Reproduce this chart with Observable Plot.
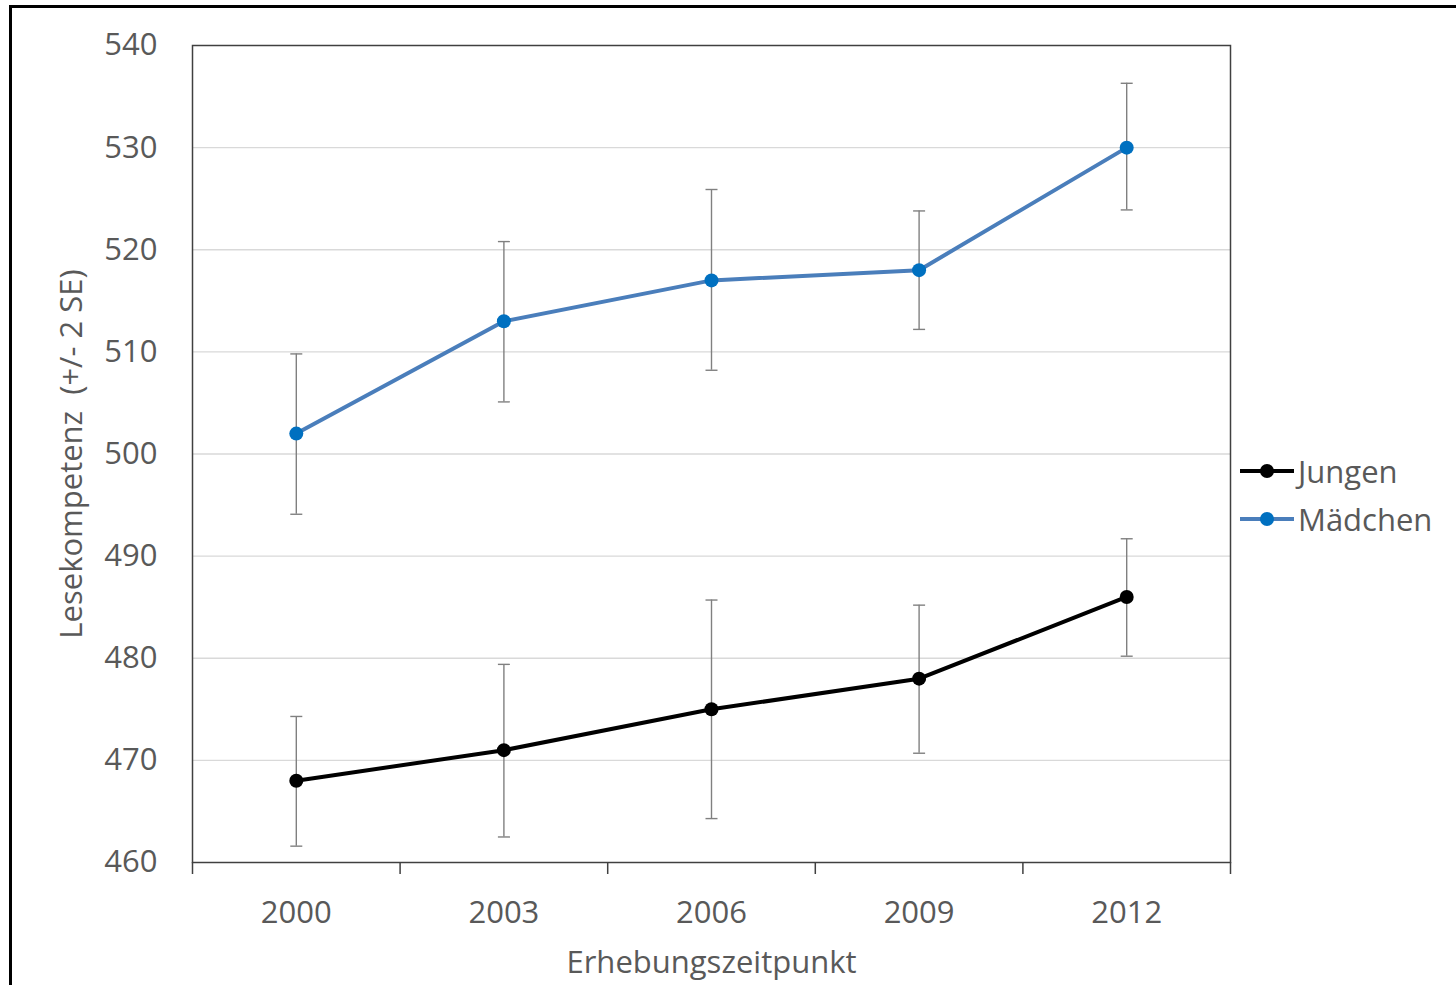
<!DOCTYPE html>
<html>
<head>
<meta charset="utf-8">
<script src="https://cdn.jsdelivr.net/npm/d3@7"></script>
<script src="https://cdn.jsdelivr.net/npm/@observablehq/plot@0.6"></script>
<style>
  html, body { margin: 0; padding: 0; background: #fff; }
  body { width: 1456px; height: 985px; position: relative; overflow: hidden; font-family: "Open Sans", sans-serif; }
  #border { position: absolute; left: 9px; top: 5px; right: -10px; bottom: -10px; border-left: 3px solid #000; border-top: 3px solid #000; pointer-events: none; }
  #chart { position: absolute; left: 0; top: 0; }
  #legend { position: absolute; left: 1240px; top: 447px; font-family: "Open Sans", sans-serif; font-size: 31px; color: #595959; }
  .item { display: flex; align-items: center; height: 48px; }
  .item svg { margin-right: 4px; }
</style>
</head>
<body>
<div id="chart"></div>
<div id="legend"></div>
<div id="border"></div>
<script>
const years = [2000, 2003, 2006, 2009, 2012];
const xBoundaries = [1998.5, 2001.5, 2004.5, 2007.5, 2010.5, 2013.5];
const yTicks = [460, 470, 480, 490, 500, 510, 520, 530, 540];
const gridTicks = [470, 480, 490, 500, 510, 520, 530];

const seriesNames = ["Jungen", "Mädchen"];
const jungen = [468, 471, 475, 478, 486];
const jungenLow = [461.6, 462.5, 464.3, 470.7, 480.2];
const jungenHigh = [474.3, 479.4, 485.7, 485.2, 491.7];
const maedchen = [502, 513, 517, 518, 530];
const maedchenLow = [494.1, 505.1, 508.2, 512.2, 523.9];
const maedchenHigh = [509.8, 520.8, 525.9, 523.8, 536.3];

const xLabel = "Erhebungszeitpunkt";
const yLabel = "Lesekompetenz\u00a0 (+/- 2 SE)";

const lineColors = {"Jungen": "#000000", "Mädchen": "#4a7ebb"};
const dotColors = {"Jungen": "#000000", "Mädchen": "#0070c0"};

const data = [];
years.forEach((yr, i) => {
  data.push({series: "Jungen", year: yr, value: jungen[i], low: jungenLow[i], high: jungenHigh[i]});
});
years.forEach((yr, i) => {
  data.push({series: "Mädchen", year: yr, value: maedchen[i], low: maedchenLow[i], high: maedchenHigh[i]});
});

const cap = {
  draw(context, size) {
    const w = Math.sqrt(size / Math.PI);
    context.moveTo(-w, 0);
    context.lineTo(w, 0);
  }
};

const textColor = "#595959";
const errColor = "#808080";

const chart = Plot.plot({
  width: 1456,
  height: 985,
  marginLeft: 192,
  marginRight: 226,
  marginTop: 45,
  marginBottom: 123,
  style: {fontFamily: "Open Sans, sans-serif", background: "transparent", overflow: "visible"},
  x: {domain: [1998.5, 2013.5]},
  y: {domain: [460, 540]},
  marks: [
    Plot.gridY(gridTicks, {stroke: "#d9d9d9", strokeOpacity: 1, strokeWidth: 1.3}),
    Plot.frame({stroke: "#404040", strokeWidth: 1.5}),
    Plot.axisY(yTicks, {tickSize: 0, tickPadding: 35, fontSize: 31, fill: textColor, label: null}),
    Plot.axisX(xBoundaries, {tickSize: 12, tickFormat: () => "", stroke: "#404040", strokeWidth: 1.5, label: null}),
    Plot.axisX(years, {tickSize: 0, tickPadding: 38, fontSize: 31, fill: textColor, tickFormat: d => String(d), label: null}),
    Plot.ruleX(data, {x: "year", y1: "low", y2: "high", stroke: errColor, strokeWidth: 1.4}),
    Plot.dot(data, {x: "year", y: "low", symbol: cap, r: 6, stroke: errColor, fill: "none", strokeWidth: 1.4}),
    Plot.dot(data, {x: "year", y: "high", symbol: cap, r: 6, stroke: errColor, fill: "none", strokeWidth: 1.4}),
    Plot.line(data, {x: "year", y: "value", z: "series", stroke: d => lineColors[d.series], strokeWidth: 4}),
    Plot.dot(data, {x: "year", y: "value", r: 7, fill: d => dotColors[d.series], stroke: "none"}),
    Plot.text([xLabel], {frameAnchor: "bottom", lineAnchor: "middle", dy: 101, fontSize: 31, fill: textColor, text: d => d}),
    Plot.text([yLabel], {frameAnchor: "left", textAnchor: "middle", lineAnchor: "middle", dx: -120, rotate: -90, fontSize: 31, fill: textColor, text: d => d})
  ]
});
document.getElementById("chart").appendChild(chart);

const legend = document.getElementById("legend");
seriesNames.forEach(name => {
  const div = document.createElement("div");
  div.className = "item";
  div.innerHTML = `<svg width="54" height="20"><line x1="0" x2="54" y1="10" y2="10" stroke="${lineColors[name]}" stroke-width="4"/><circle cx="27" cy="10" r="7" fill="${dotColors[name]}"/></svg><span>${name}</span>`;
  legend.appendChild(div);
});
</script>
</body>
</html>
